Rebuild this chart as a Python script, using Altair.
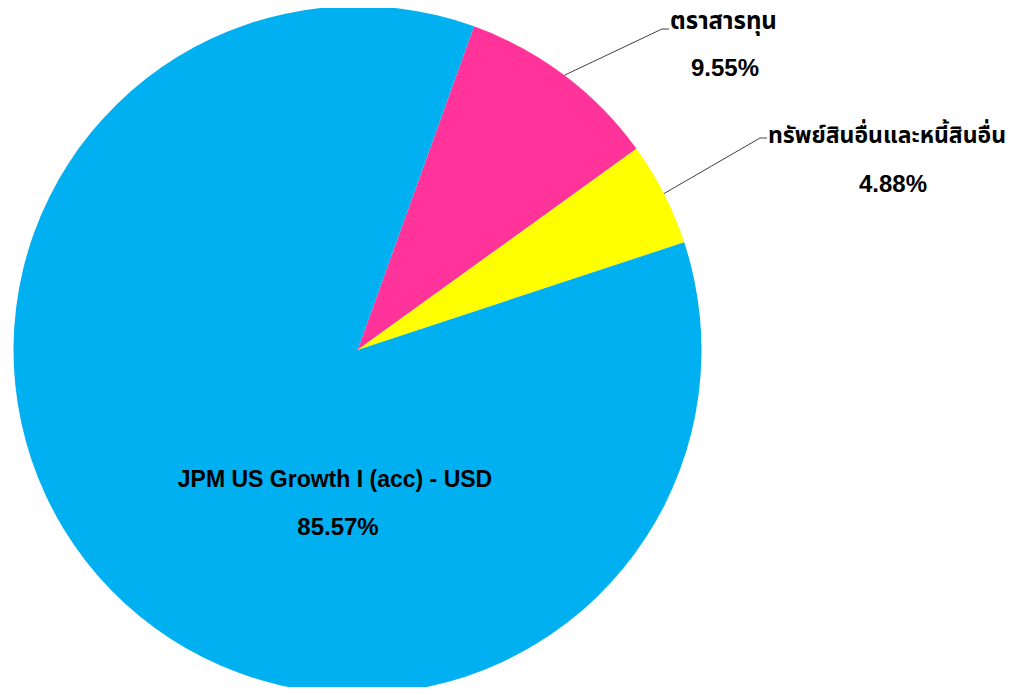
import math
import altair as alt
import pandas as pd

# ---- data ----
categories = ["ตราสารทุน", "ทรัพย์สินอื่นและหนี้สินอื่น", "JPM US Growth I (acc) - USD"]
values = [9.55, 4.88, 85.57]
pct_labels = ["9.55%", "4.88%", "85.57%"]
colors = ["#FF3399", "#FFFF00", "#00B0F0"]

# ---- layout (plot-area pixels) ----
W, H = 1016, 679
CX, CY, R = 349.5, 342.0, 344.0
START = math.radians(19.8)
FONT = "Liberation Sans, Arial, Noto Sans Thai, Tahoma, sans-serif"

df = pd.DataFrame({"cat": categories, "value": values, "order": [0, 1, 2]})

pie = alt.Chart(df).mark_arc(outerRadius=R).encode(
    x=alt.value(CX),
    y=alt.value(CY),
    theta=alt.Theta("value:Q", stack=True,
                    scale=alt.Scale(range=[START, START + 2 * math.pi])),
    order=alt.Order("order:Q"),
    color=alt.Color("cat:N", scale=alt.Scale(domain=categories, range=colors), legend=None),
)

# leader lines: start at slice edge (mid-angle), go to label anchor
total = sum(values)
cum = 0.0
mids = []
for v in values:
    mids.append(START + 2 * math.pi * (cum + v / 2) / total)
    cum += v

anchors = [(654, 21), (752, 130)]  # elbow points for the two outer labels
segs = []
for i, (ax, ay) in enumerate(anchors):
    a = mids[i]
    sx = CX + R * math.sin(a)
    sy = CY - R * math.cos(a)
    segs.append({"x": sx, "y": sy, "x2": ax, "y2": ay})
    segs.append({"x": ax, "y": ay, "x2": ax + 7, "y2": ay})
seg_df = pd.DataFrame(segs)

lines = alt.Chart(seg_df).mark_rule(color="#404040", strokeWidth=1).encode(
    x=alt.X("x:Q", scale=None),
    y=alt.Y("y:Q", scale=None),
    x2="x2:Q",
    y2="y2:Q",
)

# labels
lab_df = pd.DataFrame({
    "text": [categories[0], pct_labels[0], categories[1], pct_labels[1], categories[2], pct_labels[2]],
    "x": [662, 717, 760, 885, 327, 330],
    "y": [14, 61, 128, 177, 472, 520],
    "align": ["left", "center", "left", "center", "center", "center"],
    "size": [24, 24, 23, 24, 23, 24],
})

def text_layer(sub, align, size):
    return alt.Chart(sub).mark_text(
        align=align, baseline="middle", font=FONT, fontSize=size,
        fontWeight="bold", color="#000000"
    ).encode(
        x=alt.X("x:Q", scale=None),
        y=alt.Y("y:Q", scale=None),
        text="text:N",
    )

layers = []
for (align, size), sub in lab_df.groupby(["align", "size"]):
    layers.append(text_layer(sub, align, int(size)))

chart = alt.layer(pie, lines, *layers).properties(
    width=W, height=H, padding=0, autosize="none"
).configure(background="white", view=alt.ViewConfig(stroke=None))

chart.save("out.html", embed_options={"renderer": "svg", "actions": False})
